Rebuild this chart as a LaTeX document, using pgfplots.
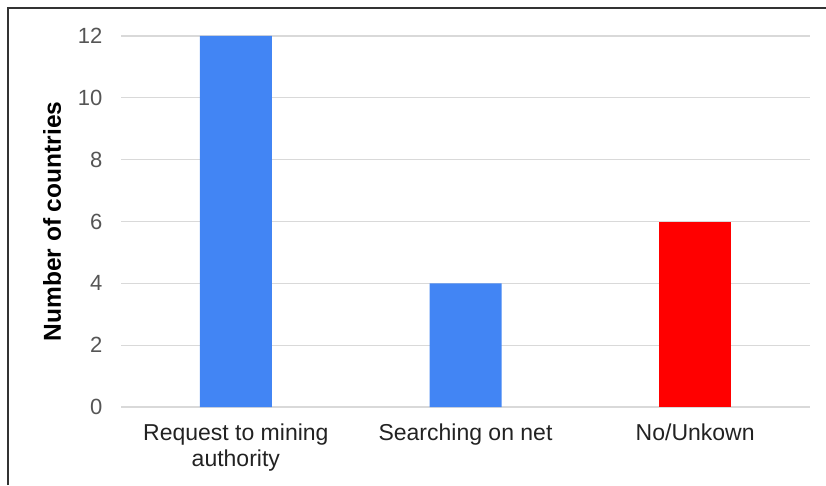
\documentclass[border=0pt]{standalone}
\usepackage{fontspec}
\setmainfont{Liberation Sans}
\usepackage{pgfplots}
\pgfplotsset{compat=1.18}

\definecolor{barblue}{HTML}{4285F4}
\definecolor{barred}{HTML}{FF0000}
\definecolor{gridgray}{HTML}{D9D9D9}
\definecolor{ticktext}{HTML}{555555}
\definecolor{labeltext}{HTML}{222222}
\definecolor{framegray}{HTML}{333333}

\begin{document}
\begin{tikzpicture}[x=1pt,y=1pt]
  \path[use as bounding box] (0,0) rectangle (826,485);
  % outer frame (left and top edges)
  \draw[framegray, line width=1.6pt] (8,0) -- (8,477) -- (826,477);
  \begin{axis}[
      at={(121pt,78pt)}, anchor=south west,
      scale only axis,
      width=689pt, height=371pt,
      xmin=-0.5, xmax=2.5,
      ymin=0, ymax=12,
      ytick={0,2,...,12},
      xtick={0,1,2},
      xticklabels={{Request to mining\\authority},{Searching on net},{No/Unkown}},
      /pgf/number format/assume math mode=true,
      axis line style={draw=none},
      major tick length=0pt,
      ymajorgrids=true,
      grid style={gridgray, line width=1.3pt},
      yticklabel style={font=\fontsize{22}{25}\selectfont, text=ticktext, xshift=-15pt},
      xticklabel style={font=\fontsize{23}{26}\selectfont, text=labeltext, align=center, yshift=-13pt},
      ylabel={Number of countries},
      ylabel style={font=\fontsize{24.5}{28}\selectfont\bfseries, text=black,
                    at={(axis description cs:-0.1,0.5)}, anchor=center},
      ybar, bar width=72pt,
    ]
    \addplot[fill=barblue, draw=none, bar shift=0pt] coordinates {(0,12) (1,4)};
    \addplot[fill=barred, draw=none, bar shift=0pt] coordinates {(2,6)};
  \end{axis}
\end{tikzpicture}
\end{document}
